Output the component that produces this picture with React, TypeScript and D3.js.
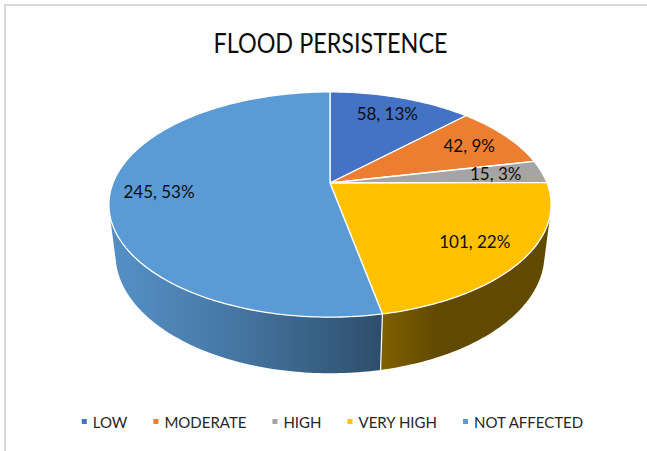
import { useEffect, useRef } from 'react';
import * as d3 from 'd3';

const categories = ['LOW', 'MODERATE', 'HIGH', 'VERY HIGH', 'NOT AFFECTED'];
const values = [58, 42, 15, 101, 245];
const colors = ['#4472C4', '#ED7D31', '#A5A5A5', '#FFC000', '#5B9BD5'];
const title = 'FLOOD PERSISTENCE';

const App = () => {
  const ref = useRef<SVGSVGElement>(null);

  useEffect(() => {
    document.body.style.margin = '0';
    const width = 647;
    const height = 451;
    const font = 'Lato, "Open Sans", sans-serif';

    const svg = d3.select(ref.current);
    svg.selectAll('*').remove();
    const defs = svg.append('defs');

    // chart frame - only top and left edges are inside the picture
    svg.append('rect')
      .attr('x', 5).attr('y', 5)
      .attr('width', width + 20).attr('height', height + 20)
      .attr('fill', '#fff')
      .attr('stroke', '#d9d9d9')
      .attr('stroke-width', 2);

    // title
    svg.append('text')
      .attr('x', 330.5).attr('y', 53)
      .attr('text-anchor', 'middle')
      .attr('font-family', font)
      .attr('font-size', 26)
      .attr('textLength', 234)
      .attr('lengthAdjust', 'spacingAndGlyphs')
      .attr('fill', '#0d0d0d')
      .text(title);

    // perspective camera for the 3d pie
    const cx = 330, cy = 183, R = 217, T = 59;
    const tilt = Math.PI / 6;
    const D = 983;
    const project = (a: number, r: number, y: number): [number, number] => {
      const X = r * Math.sin(a);
      const Z = -r * Math.cos(a);
      const yp = y * Math.cos(tilt) - Z * Math.sin(tilt);
      const zp = y * Math.sin(tilt) + Z * Math.cos(tilt);
      const f = D / (D - zp);
      return [cx + X * f, cy - yp * f];
    };
    const camZ = D * Math.cos(tilt);
    // side is visible where its outward normal points at the camera
    const visFrom = Math.acos(-R / camZ) > 0 ? Math.PI - Math.acos(R / camZ) : Math.PI / 2;
    const visTo = 2 * Math.PI - visFrom;
    // light from the left / front
    const shade = (a: number) => 0.38 + 0.536 * Math.max(0, -Math.sin(a + (24 * Math.PI) / 180));

    const arcs = d3.pie<number>().sort(null).value((d) => d)(values);
    const line = d3.line();

    // sides, one path per slice with a horizontal gradient
    const sides = svg.append('g');
    arcs.forEach((d, i) => {
      const a0 = Math.max(d.startAngle, visFrom);
      const a1 = Math.min(d.endAngle, visTo);
      if (a1 <= a0) return;
      const steps = Math.max(4, Math.ceil((a1 - a0) / (Math.PI / 180)));
      const angs = d3.range(steps + 1).map((k) => a0 + (k * (a1 - a0)) / steps);
      const topPts = angs.map((a) => project(a, R, 0));
      const botPts = angs.map((a) => project(a, R, -T)).reverse();
      const xs = topPts.map((p) => p[0]);
      const xMin = d3.min(xs) as number;
      const xMax = d3.max(xs) as number;
      const base = d3.rgb(colors[i]);
      const grad = defs.append('linearGradient')
        .attr('id', `side-${i}`)
        .attr('gradientUnits', 'userSpaceOnUse')
        .attr('x1', xMin).attr('x2', xMax)
        .attr('y1', 0).attr('y2', 0);
      angs.map((a, k) => ({ a, x: xs[k] }))
        .sort((p, q) => p.x - q.x)
        .forEach((p) => {
          const s = shade(p.a);
          grad.append('stop')
            .attr('offset', xMax > xMin ? (p.x - xMin) / (xMax - xMin) : 0)
            .attr('stop-color', d3.rgb(base.r * s, base.g * s, base.b * s).toString());
        });
      sides.append('path')
        .attr('d', line([...topPts, ...botPts]) + 'Z')
        .attr('fill', `url(#side-${i})`);
    });
    // white seams on the side between slices
    arcs.forEach((d) => {
      if (d.startAngle <= visFrom || d.startAngle >= visTo) return;
      const p0 = project(d.startAngle, R, 0);
      const p1 = project(d.startAngle, R, -T);
      sides.append('line')
        .attr('x1', p0[0]).attr('y1', p0[1])
        .attr('x2', p1[0]).attr('y2', p1[1])
        .attr('stroke', '#fff')
        .attr('stroke-width', 1.2);
    });

    // top face
    const top = svg.append('g');
    arcs.forEach((d, i) => {
      const pts: [number, number][] = [project(0, 0, 0)];
      const steps = Math.max(2, Math.ceil((d.endAngle - d.startAngle) / (Math.PI / 180)));
      for (let k = 0; k <= steps; k++) {
        pts.push(project(d.startAngle + (k * (d.endAngle - d.startAngle)) / steps, R, 0));
      }
      top.append('path')
        .attr('d', line(pts) + 'Z')
        .attr('fill', colors[i])
        .attr('stroke', '#fff')
        .attr('stroke-width', 1.3)
        .attr('stroke-linejoin', 'round');
    });

    // data labels
    const total = d3.sum(values);
    arcs.forEach((d, i) => {
      const mid = (d.startAngle + d.endAngle) / 2;
      const [x, y] = project(mid, R * 0.78, 0);
      svg.append('text')
        .attr('x', x).attr('y', y)
        .attr('dy', '0.36em')
        .attr('text-anchor', 'middle')
        .attr('font-family', font)
        .attr('font-size', 17)
        .attr('fill', '#0d0d0d')
        .text(`${values[i]}, ${Math.round((values[i] / total) * 100)}%`);
    });

    // legend
    const legend = svg.append('g');
    const items = categories.map((c, i) => {
      const g = legend.append('g');
      g.append('rect')
        .attr('width', 5).attr('height', 5)
        .attr('y', -9)
        .attr('fill', colors[i]);
      const t = g.append('text')
        .attr('x', 11)
        .attr('font-family', font)
        .attr('font-size', 15)
        .attr('fill', '#262626')
        .text(c);
      const w = 11 + (t.node() as SVGTextElement).getComputedTextLength();
      return { g, w };
    });
    const gap = 26;
    const totalW = d3.sum(items, (d) => d.w) + gap * (items.length - 1);
    let lx = 332.5 - totalW / 2;
    items.forEach((it) => {
      it.g.attr('transform', `translate(${lx},428)`);
      lx += it.w + gap;
    });
  }, []);

  return <svg ref={ref} width={647} height={451} style={{ position: 'absolute', left: 0, top: 0 }} />;
};

export default App;
